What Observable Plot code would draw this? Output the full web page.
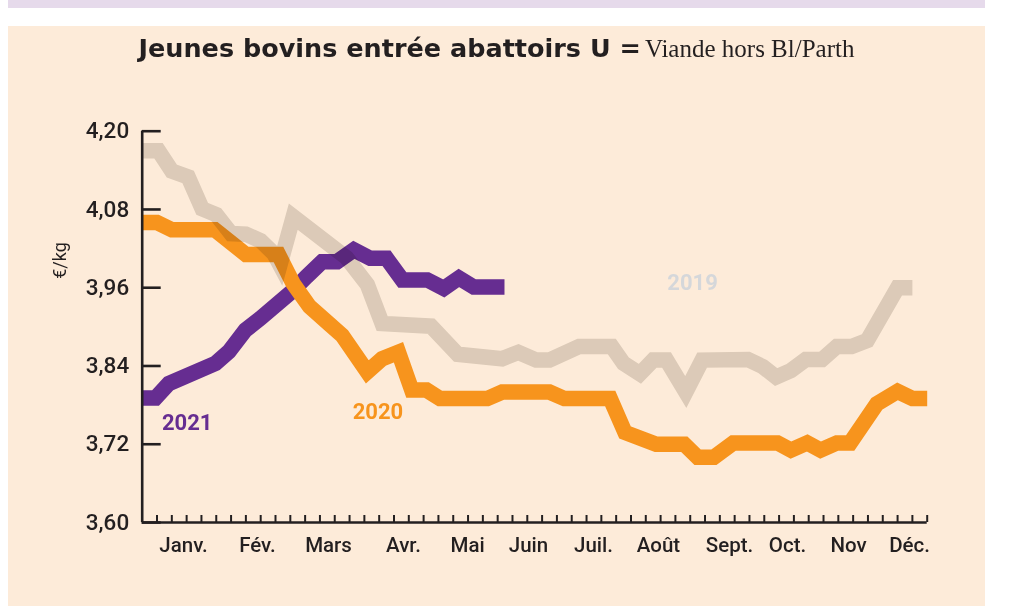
<!DOCTYPE html>
<html>
<head>
<meta charset="utf-8">
<script src="https://cdn.jsdelivr.net/npm/d3@7"></script>
<script src="https://cdn.jsdelivr.net/npm/@observablehq/plot@0.6"></script>
<style>
  html, body { margin: 0; padding: 0; background: #ffffff; }
  #wrap { position: relative; width: 1009px; height: 606px; overflow: hidden; background: #ffffff; }
  #strip { position: absolute; left: 8px; top: 0; width: 977px; height: 8px; background: #e6daeb; }
  #chart { position: absolute; left: 8px; top: 26px; width: 977px; height: 580px; }
  #title { position: absolute; left: 8px; top: 33px; width: 977px; text-align: center; white-space: nowrap;
           line-height: 30px; color: #231f20; }
  #title .b { font-family: "DejaVu Sans", sans-serif; font-weight: bold; font-size: 25.5px; }
  #title .s { font-family: "Liberation Serif", serif; font-size: 25px; }
</style>
</head>
<body>
<div id="wrap">
  <div id="strip"></div>
  <div id="chart"></div>
  <div id="title"><span class="b">Jeunes bovins entrée abattoirs U =</span> <span class="s">Viande hors Bl/Parth</span></div>
</div>
<script>
// ---- data (x = week position in the year, y = €/kg) ----
const weeks2019 = [0, 1.1, 2.0, 3.1, 4.05, 5.0, 6.0, 7.0, 8.0, 8.9, 9.3, 10.2, 13.8, 15.2, 16.2, 19.5, 21.3, 24.3, 25.4, 26.6, 27.5, 29.5, 31.7, 32.5, 33.6, 34.5, 35.4, 36.7, 37.8, 40.9, 41.9, 42.8, 43.8, 44.8, 45.9, 46.9, 47.9, 48.95, 51, 52];
const values2019 = [4.170, 4.170, 4.139, 4.130, 4.081, 4.072, 4.043, 4.042, 4.032, 4.012, 3.995, 4.069, 4.006, 3.965, 3.905, 3.901, 3.858, 3.851, 3.861, 3.849, 3.849, 3.870, 3.870, 3.844, 3.828, 3.849, 3.849, 3.800, 3.849, 3.850, 3.839, 3.823, 3.833, 3.850, 3.850, 3.870, 3.870, 3.879, 3.960, 3.960];

const weeks2020 = [0, 1, 2, 4.9, 7, 9.2, 10.2, 11.3, 12.6, 13.5, 15.2, 16.2, 17.3, 18.2, 19.2, 20.1, 23.3, 24.3, 27.5, 28.5, 31.6, 32.6, 34.7, 36.6, 37.5, 38.6, 39.9, 42.9, 43.8, 44.9, 45.8, 46.9, 47.8, 49.6, 51, 52, 53];
const values2020 = [4.060, 4.060, 4.049, 4.049, 4.011, 4.011, 3.966, 3.931, 3.905, 3.887, 3.831, 3.851, 3.861, 3.803, 3.803, 3.790, 3.790, 3.800, 3.800, 3.790, 3.790, 3.738, 3.720, 3.720, 3.700, 3.700, 3.722, 3.722, 3.711, 3.722, 3.711, 3.722, 3.722, 3.782, 3.801, 3.790, 3.790];

const weeks2021 = [0, 0.9, 1.8, 4.95, 5.85, 6.97, 7.98, 10.1, 11.1, 12.15, 13.16, 14.29, 15.4, 16.5, 17.56, 19.25, 20.36, 21.38, 22.39, 24.46];
const values2021 = [3.791, 3.791, 3.813, 3.844, 3.862, 3.895, 3.913, 3.954, 3.977, 4.000, 4.000, 4.018, 4.005, 4.005, 3.972, 3.972, 3.959, 3.975, 3.961, 3.961];

const yTicks = [3.60, 3.72, 3.84, 3.96, 4.08, 4.20];
const weekTicks = d3.range(1, 54);
const monthNames = ["Janv.", "Fév.", "Mars", "Avr.", "Mai", "Juin", "Juil.", "Août", "Sept.", "Oct.", "Nov", "Déc."];
const monthPos = [2.79, 7.78, 12.58, 17.64, 21.97, 26.08, 30.47, 34.86, 39.65, 43.57, 47.69, 51.81];

const seriesLabels = ["2021", "2020", "2019"];
const labelWeeks = [3.04, 15.92, 37.16];
const labelValues = [3.753, 3.770, 3.967];
const labelColors = ["#662d91", "#f7941d", "#d5d7da"];

// ---- build tables ----
const d2019 = weeks2019.map((w, i) => ({w, v: values2019[i]}));
const d2020 = weeks2020.map((w, i) => ({w, v: values2020[i]}));
const d2021 = weeks2021.map((w, i) => ({w, v: values2021[i]}));
const labels = seriesLabels.map((t, i) => ({t, w: labelWeeks[i], v: labelValues[i], c: labelColors[i]}));

const ink = "#231f20";
const font = "Roboto, 'DejaVu Sans', sans-serif";
const lineOpts = {x: "w", y: "v", strokeWidth: 15.5, strokeLinejoin: "miter", strokeMiterlimit: 10, strokeLinecap: "butt", curve: "linear"};
const fmt = d => d.toFixed(2).replace(".", ",");

const chart = Plot.plot({
  width: 977,
  height: 580,
  marginLeft: 133.7,
  marginRight: 58.3,
  marginTop: 104.7,
  marginBottom: 84,
  x: {domain: [0, 53], axis: null, label: null},
  y: {domain: [3.6, 4.2], axis: null, label: null},
  style: {background: "#fdebd9", overflow: "visible", fontFamily: font, color: ink},
  marks: [
    Plot.line(d2021, {...lineOpts, stroke: "#662d91"}),
    Plot.line(d2020, {...lineOpts, stroke: "#f7941d"}),
    Plot.line(d2019, {...lineOpts, stroke: "#dedcd8", mixBlendMode: "multiply"}),
    Plot.ruleX([0], {stroke: ink, strokeWidth: 2.6}),
    Plot.ruleY([3.6], {stroke: ink, strokeWidth: 2.6}),
    Plot.axisY(yTicks, {anchor: "left", tickSize: -19, tickPadding: 32, tickFormat: fmt, stroke: ink, strokeWidth: 2.6,
      fontSize: 22.5, fontWeight: 500, fill: ink, label: null}),
    Plot.axisX(weekTicks, {anchor: "bottom", tickSize: -7, tickFormat: () => "", stroke: ink, strokeWidth: 2, label: null}),
    Plot.text(monthNames, {x: (d, i) => monthPos[i], text: d => d, frameAnchor: "bottom", dy: 29,
      fontSize: 20.5, fontWeight: 500, fill: ink}),
    Plot.text(["€/kg"], {frameAnchor: "left", dx: -82, dy: -48, rotate: -90, fontSize: 18, fill: ink}),
    Plot.text(labels, {x: "w", y: "v", text: "t", fill: "c", fontSize: 22, fontWeight: "bold"})
  ]
});
document.getElementById("chart").appendChild(chart);
</script>
</body>
</html>
